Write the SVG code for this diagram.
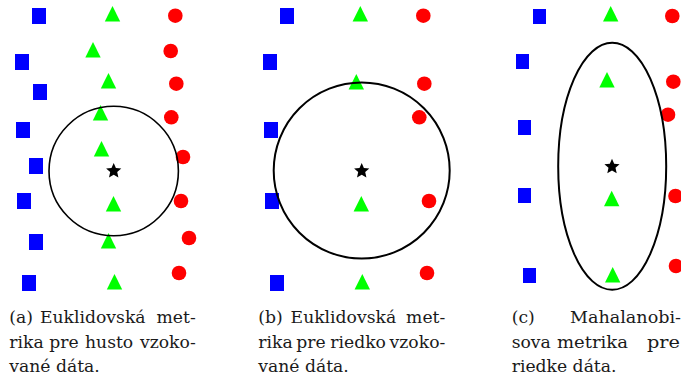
<svg xmlns="http://www.w3.org/2000/svg" xmlns:xlink="http://www.w3.org/1999/xlink" width="681" height="378" viewBox="0 0 681 378">
<style>
.sq{fill:#0000ff}
.tr{fill:#00ff00}
.ci{fill:#ff0000}
.st{fill:#000000}
.ring{fill:none;stroke:#000000}
.cap{font-family:"DejaVu Serif","Liberation Serif",serif;font-size:17.2px;fill:#1a1a1a}
.end{text-anchor:end}
</style>
<defs>
<rect id="sqA" class="sq" x="-7" y="-8" width="14" height="16"/>
<rect id="sqC" class="sq" x="-6.5" y="-7.5" width="13" height="15"/>
<path id="tri" class="tr" d="M0,0 L7.7,15.6 L-7.7,15.6 Z"/>
<circle id="dot" class="ci" r="7.3"/>
<path id="star" class="st" d="M0,-8 L2.2,-3.0 L7.6,-2.5 L3.5,1.1 L4.7,6.5 L0,3.7 L-4.7,6.5 L-3.5,1.1 L-7.6,-2.5 L-2.2,-3.0 Z"/>
</defs>

<g id="panel-a">
<g id="a-squares">
<use href="#sqA" x="39" y="16"/>
<use href="#sqA" x="22" y="62"/>
<use href="#sqA" x="40" y="92"/>
<use href="#sqA" x="23" y="130"/>
<use href="#sqA" x="36" y="166"/>
<use href="#sqA" x="24" y="201"/>
<use href="#sqA" x="36" y="242"/>
<use href="#sqA" x="29" y="283"/>
</g>
<g id="a-triangles">
<use href="#tri" x="112.5" y="6"/>
<use href="#tri" x="93" y="42"/>
<use href="#tri" x="108.5" y="73"/>
<use href="#tri" x="100.5" y="105"/>
<use href="#tri" x="101.5" y="141"/>
<use href="#tri" x="113.5" y="196"/>
<use href="#tri" x="108.5" y="233"/>
<use href="#tri" x="114.5" y="274"/>
</g>
<g id="a-circles">
<use href="#dot" x="175.3" y="15.7"/>
<use href="#dot" x="170.7" y="51"/>
<use href="#dot" x="176.3" y="83.7"/>
<use href="#dot" x="171.3" y="117.3"/>
<use href="#dot" x="183" y="157"/>
<use href="#dot" x="181" y="201"/>
<use href="#dot" x="189" y="238"/>
<use href="#dot" x="179" y="273"/>
</g>
<circle id="a-ring" class="ring" cx="113.7" cy="171" r="64.7" stroke-width="1.6"/>
<use id="a-star" href="#star" x="113.7" y="171"/>
<g id="a-caption" class="cap">
<text x="9.3" y="323.3">(a)</text>
<text x="40" y="323.3">Euklidovská</text>
<text class="end" x="195.7" y="323.3">met-</text>
<text x="9.3" y="347.5">rika</text>
<text x="49.3" y="347.5">pre</text>
<text x="85" y="347.5">husto</text>
<text class="end" x="195.7" y="347.5">vzoko-</text>
<text x="9.3" y="371.5">vané dáta.</text>
</g>
</g>

<g id="panel-b">
<g id="b-squares">
<use href="#sqA" x="287" y="16"/>
<use href="#sqA" x="270" y="62"/>
<use href="#sqA" x="271" y="130"/>
<use href="#sqA" x="272" y="201"/>
<use href="#sqA" x="277" y="283"/>
</g>
<g id="b-triangles">
<use href="#tri" x="360.3" y="6"/>
<use href="#tri" x="356.3" y="74"/>
<use href="#tri" x="361.3" y="196"/>
<use href="#tri" x="362.3" y="274"/>
</g>
<g id="b-circles">
<use href="#dot" x="423.3" y="15.7"/>
<use href="#dot" x="424.3" y="83.7"/>
<use href="#dot" x="419.3" y="117.3"/>
<use href="#dot" x="429" y="201"/>
<use href="#dot" x="427" y="273"/>
</g>
<circle id="b-ring" class="ring" cx="361.7" cy="170.5" r="88" stroke-width="2"/>
<use id="b-star" href="#star" x="361.7" y="171"/>
<g id="b-caption" class="cap">
<text x="258.3" y="323.3">(b)</text>
<text x="290.6" y="323.3">Euklidovská</text>
<text class="end" x="445.3" y="323.3">met-</text>
<text x="258.3" y="347.5">rika</text>
<text x="296.3" y="347.5">pre</text>
<text x="330.3" y="347.5">riedko</text>
<text class="end" x="445.3" y="347.5">vzoko-</text>
<text x="258.3" y="371.5">vané dáta.</text>
</g>
</g>

<g id="panel-c">
<g id="c-squares">
<use href="#sqC" x="539.5" y="16.5"/>
<use href="#sqC" x="522.5" y="61.5"/>
<use href="#sqC" x="524.5" y="127.5"/>
<use href="#sqC" x="524.5" y="195.5"/>
<use href="#sqC" x="529.5" y="275.5"/>
</g>
<g id="c-triangles">
<use href="#tri" x="610.7" y="6"/>
<use href="#tri" x="607" y="72"/>
<use href="#tri" x="611.7" y="190.7"/>
<use href="#tri" x="612.7" y="267"/>
</g>
<g id="c-circles">
<use href="#dot" x="672.3" y="16"/>
<use href="#dot" x="673.3" y="81.7"/>
<use href="#dot" x="668" y="114.7"/>
<use href="#dot" x="675.5" y="196"/>
<use href="#dot" x="676" y="266"/>
</g>
<ellipse id="c-ring" class="ring" cx="612.2" cy="166.3" rx="54" ry="123.5" stroke-width="2"/>
<use id="c-star" href="#star" x="612" y="166.7"/>
<g id="c-caption" class="cap">
<text x="511.7" y="323.3">(c)</text>
<text x="570" y="323.3" textLength="111" lengthAdjust="spacingAndGlyphs">Mahalanobi-</text>
<text x="511.7" y="347.5">sova</text>
<text x="557" y="347.5" textLength="71" lengthAdjust="spacingAndGlyphs">metrika</text>
<text x="647" y="347.5" textLength="33" lengthAdjust="spacingAndGlyphs">pre</text>
<text x="511.7" y="371.5">riedke dáta.</text>
</g>
</g>
</svg>
